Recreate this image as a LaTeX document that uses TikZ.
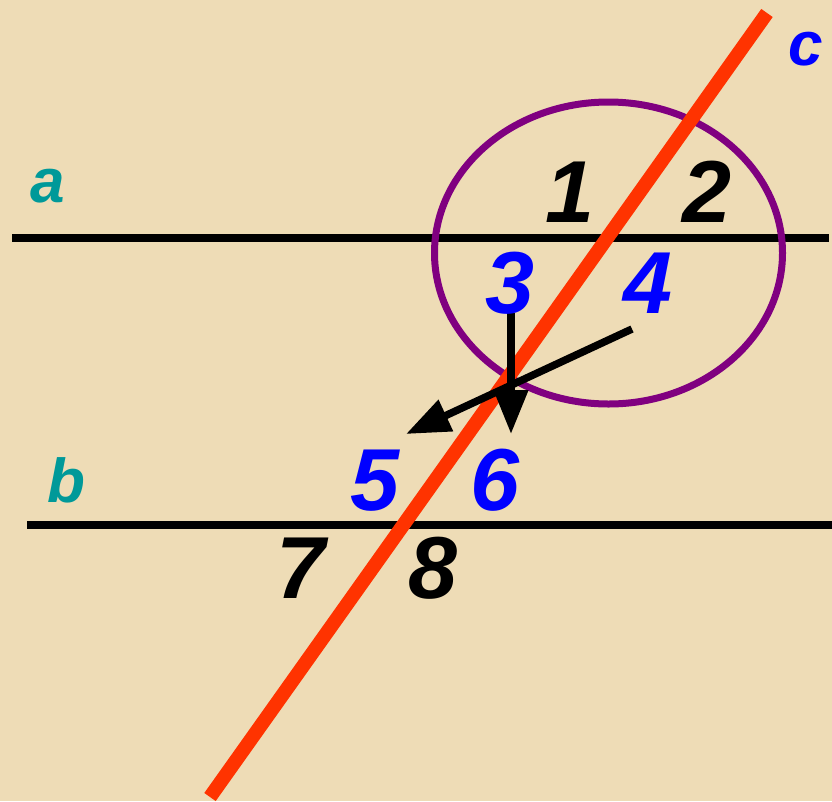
\documentclass[tikz,border=0pt]{standalone}
\usepackage{fontspec}
\setmainfont{Liberation Sans}
\usetikzlibrary{arrows.meta}
\definecolor{parch}{RGB}{238,220,182}
\definecolor{teal1}{RGB}{0,153,153}
\definecolor{redc}{RGB}{255,51,0}
\definecolor{purp}{RGB}{128,0,128}
\definecolor{blu}{RGB}{0,0,255}
\tikzset{
  digit/.style={inner sep=0pt, anchor=base, font=\fontsize{88}{88}\selectfont\bfseries\itshape},
  letter/.style={inner sep=0pt, anchor=base, font=\fontsize{62}{62}\selectfont\bfseries\itshape, text=teal1},
  thinline/.style={line width=8pt, black},
  bigarrow/.style={line width=7.5pt, black, -{Triangle[length=44pt,width=33pt]}}
}
\begin{document}
\begin{tikzpicture}[x=1pt,y=-1pt]
\fill[parch] (0,0) rectangle (832,801);
\useasboundingbox (0,0) rectangle (832,801);
% lines
\coordinate (a1) at (12,238); \coordinate (a2) at (829,238);
\coordinate (b1) at (27,525); \coordinate (b2) at (832,525);
\coordinate (c1) at (767,13); \coordinate (c2) at (210,797);
\draw[thinline] (a1) -- (a2);
\draw[thinline] (b1) -- (b2);
\draw[purp, line width=7pt] (608.5,253) ellipse [x radius=174, y radius=151];
\draw[redc, line width=14pt] (c1) -- (c2);
% arrows
\coordinate (v1) at (511,313); \coordinate (v2) at (511,434);
\coordinate (d1) at (632,329); \coordinate (d2) at (406,434);
\draw[bigarrow] (v1) -- (v2);
\draw[bigarrow] (d1) -- (d2);
% labels
\node[letter] (la) at (48,202) {a};
\node[letter] (lb) at (66,502) {b};
\node[letter, text=blu] (lc) at (806,65) {c};
\node[digit] (n1) at (570,222) {1};
\node[digit] (n2) at (707,222) {2};
\node[digit, text=blu] (n3) at (510,313) {3};
\node[digit, text=blu] (n4) at (648,313) {4};
\node[digit, text=blu] (n5) at (375,510) {5};
\node[digit, text=blu] (n6) at (495,510) {6};
\node[digit] (n7) at (301,598) {7};
\node[digit] (n8) at (433,598) {8};
\end{tikzpicture}
\end{document}
